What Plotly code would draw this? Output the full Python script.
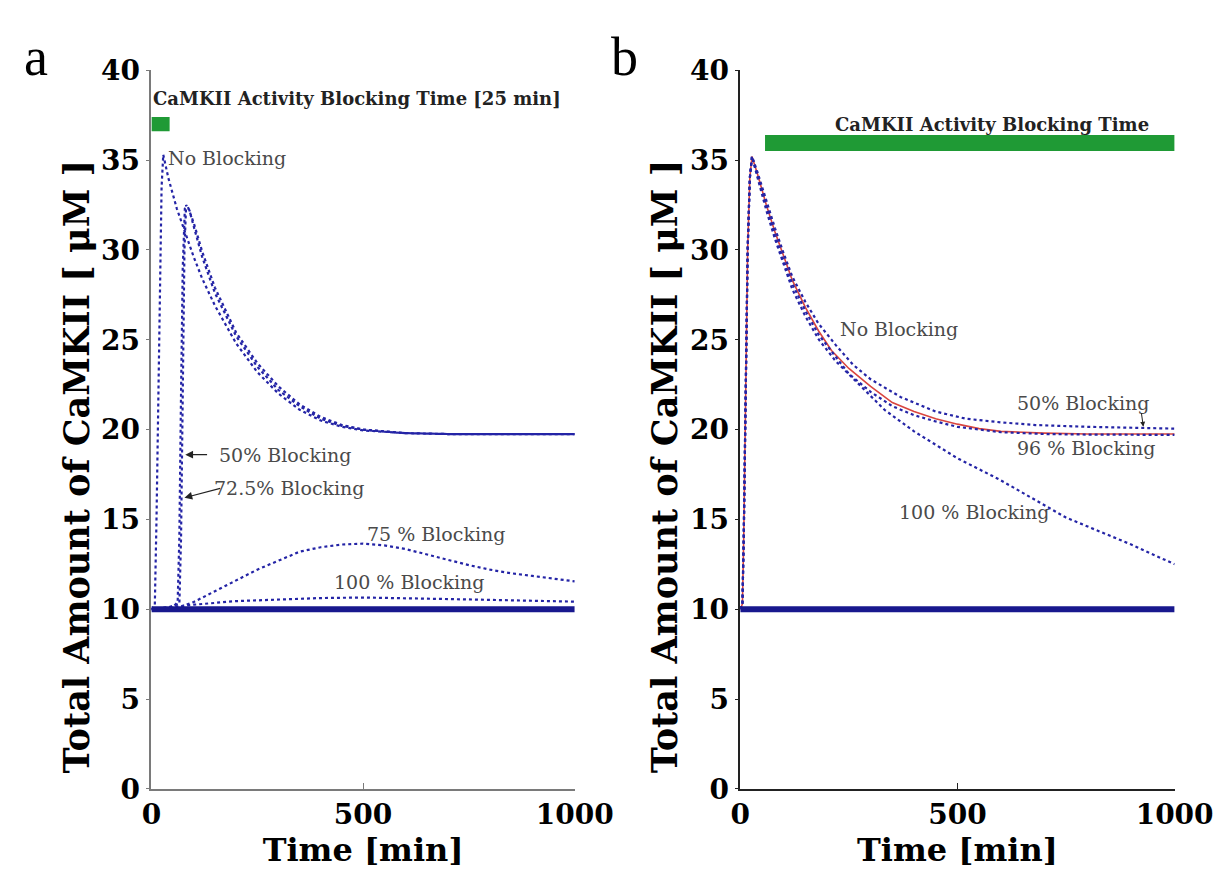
import plotly.graph_objects as go

# ---------------- Panel a (25 min blocking) ----------------
a_none_t = [0, 8, 12, 16, 20, 24, 28, 40, 60, 80, 100, 120, 150, 200, 250, 300, 350, 400, 450, 500, 600, 700, 800, 900, 1000]
a_none_v = [10, 10.2, 15, 22, 29, 33.5, 35.3, 34.0, 32.3, 30.9, 29.6, 28.4, 26.9, 24.8, 23.2, 22.0, 21.1, 20.5, 20.15, 19.95, 19.8, 19.75, 19.75, 19.75, 19.75]

a_50_t = [0, 40, 66, 70, 74, 78, 82, 90, 100, 120, 150, 200, 250, 300, 350, 400, 450, 500, 600, 700, 800, 900, 1000]
a_50_v = [10, 10.1, 10.3, 14, 22, 30, 32.5, 32.2, 31.3, 29.6, 27.6, 25.2, 23.5, 22.2, 21.3, 20.6, 20.2, 20.0, 19.8, 19.75, 19.75, 19.75, 19.75]

a_725_t = [0, 50, 62, 66, 70, 74, 79, 86, 100, 120, 150, 200, 250, 300, 350, 400, 450, 500, 600, 700, 800, 900, 1000]
a_725_v = [10, 10.1, 10.4, 14, 22, 29, 32.3, 32.4, 31.5, 29.9, 27.9, 25.4, 23.7, 22.4, 21.4, 20.7, 20.25, 20.0, 19.8, 19.75, 19.75, 19.75, 19.75]

a_75_t = [0, 60, 100, 150, 200, 250, 300, 350, 400, 450, 500, 550, 600, 650, 700, 750, 800, 850, 900, 950, 1000]
a_75_v = [10, 10.05, 10.4, 11.0, 11.6, 12.2, 12.7, 13.2, 13.45, 13.6, 13.65, 13.55, 13.35, 13.05, 12.75, 12.45, 12.2, 12.0, 11.85, 11.7, 11.55]

a_100_t = [0, 100, 200, 300, 400, 500, 600, 700, 800, 900, 1000]
a_100_v = [10, 10.25, 10.45, 10.55, 10.62, 10.65, 10.62, 10.58, 10.52, 10.47, 10.42]

base_t = [0, 1000]
base_v = [10, 10]

a_block_t = [0, 43]          # green bar (blocking period) in panel a
a_block_v = [36.6, 37.4]

# ---------------- Panel b (long blocking) ----------------
b_none_t = [0, 5, 8, 12, 17, 22, 27, 40, 60, 80, 100, 120, 150, 180, 210, 250, 300, 350, 400, 450, 500, 550, 600, 700, 800, 900, 1000]
b_none_v = [10, 10.3, 14, 22, 30, 34, 35.2, 34.2, 32.5, 31.0, 29.6, 28.3, 26.8, 25.5, 24.4, 23.4, 22.4, 21.5, 21.0, 20.6, 20.3, 20.05, 19.9, 19.8, 19.75, 19.75, 19.75]

b_50_t = [0, 5, 8, 12, 17, 22, 27, 40, 60, 80, 100, 120, 150, 180, 220, 260, 300, 370, 450, 520, 600, 680, 800, 900, 1000]
b_50_v = [10, 10.3, 14, 22, 30, 34, 35.2, 34.3, 32.7, 31.2, 29.8, 28.5, 27.1, 25.9, 24.7, 23.6, 22.8, 21.8, 21.0, 20.6, 20.4, 20.25, 20.15, 20.1, 20.05]

b_96_t = [0, 5, 8, 12, 17, 22, 27, 40, 60, 80, 100, 120, 150, 180, 250, 300, 350, 400, 450, 500, 600, 700, 800, 900, 1000]
b_96_v = [10, 10.3, 14, 22, 30, 34, 35.2, 34.1, 32.4, 30.8, 29.4, 28.1, 26.6, 25.3, 23.1, 22.1, 21.3, 20.8, 20.45, 20.15, 19.85, 19.75, 19.72, 19.7, 19.7]

b_100_t = [0, 5, 8, 12, 17, 22, 27, 40, 60, 80, 100, 120, 150, 181, 220, 257, 300, 332, 400, 446, 500, 598, 700, 750, 800, 900, 1000]
b_100_v = [10, 10.3, 14, 22, 30, 34, 35.2, 34.0, 32.2, 30.6, 29.2, 27.8, 26.3, 25.0, 23.8, 22.9, 21.9, 21.1, 19.9, 19.2, 18.4, 17.2, 15.8, 15.1, 14.6, 13.6, 12.5]

b_block_t = [57, 1000]        # green bar (blocking period) in panel b
b_block_v = [35.5, 36.4]

y_ticks = [0, 5, 10, 15, 20, 25, 30, 35, 40]
x_ticks = [0, 500, 1000]
y_title = "Total Amount of CaMKII [ μM ]"
x_title = "Time [min]"

# ---------------- styling / layout geometry ----------------
S = 0.958                    # observed page-to-picture scale
OX, OY = 17, 26              # observed picture offset
W, H = 1257, 888
BLUE = "#2424a6"
BASE = "#18188e"
RED = "#d9453f"
GREEN = "#1f9a35"
SERIF = "DejaVu Serif"
LBL = dict(family=SERIF, size=19, color="#4a4a4a")


def px_x(p):
    return ((p - OX) / S) / W


def px_y(p):
    return 1 - ((p - OY) / S) / H


fig = go.Figure()

dot = dict(color=BLUE, width=2.2, dash="dot")

# panel a traces
for t, v in [(a_none_t, a_none_v), (a_50_t, a_50_v), (a_725_t, a_725_v), (a_75_t, a_75_v), (a_100_t, a_100_v)]:
    fig.add_trace(go.Scatter(x=t, y=v, mode="lines", line=dot, xaxis="x", yaxis="y", showlegend=False))
fig.add_trace(go.Scatter(x=base_t, y=base_v, mode="lines", line=dict(color=BASE, width=6), xaxis="x", yaxis="y", showlegend=False))

# panel b traces
fig.add_trace(go.Scatter(x=b_none_t, y=b_none_v, mode="lines", line=dict(color=RED, width=1.6), xaxis="x2", yaxis="y2", showlegend=False))
for t, v in [(b_50_t, b_50_v), (b_96_t, b_96_v), (b_100_t, b_100_v)]:
    fig.add_trace(go.Scatter(x=t, y=v, mode="lines", line=dot, xaxis="x2", yaxis="y2", showlegend=False))
fig.add_trace(go.Scatter(x=base_t, y=base_v, mode="lines", line=dict(color=BASE, width=6), xaxis="x2", yaxis="y2", showlegend=False))

# green blocking bars
fig.add_shape(type="rect", xref="x", yref="y", x0=a_block_t[0], x1=a_block_t[1], y0=a_block_v[0], y1=a_block_v[1],
              fillcolor=GREEN, line=dict(width=0))
fig.add_shape(type="rect", xref="x2", yref="y2", x0=b_block_t[0], x1=b_block_t[1], y0=b_block_v[0], y1=b_block_v[1],
              fillcolor=GREEN, line=dict(width=0))

tickfont = dict(family=SERIF, size=28, color="black", weight="bold")
xtitlefont = dict(family=SERIF, size=32, color="black", weight="bold")
ytitlefont = dict(family=SERIF, size=35, color="black", weight="bold")

common_x = dict(range=[0, 1000], tickvals=x_ticks, ticks="inside", ticklen=6, showgrid=False, zeroline=False,
                showline=True, linewidth=1.5, tickfont=tickfont,
                title=dict(text=x_title, font=xtitlefont, standoff=4))
common_y = dict(range=[0, 40], tickvals=y_ticks, ticks="outside", ticklen=4, showgrid=False, zeroline=False,
                showline=True, linewidth=1.5, tickfont=tickfont)

y_dom = [px_y(787), px_y(72)]
fig.update_layout(
    width=W, height=H, margin=dict(l=0, r=0, t=0, b=0),
    paper_bgcolor="white", plot_bgcolor="white",
    xaxis=dict(domain=[px_x(150), px_x(572)], anchor="y", linecolor="#7a7a7a", tickcolor="#7a7a7a", **common_x),
    yaxis=dict(domain=y_dom, anchor="x", linecolor="#7a7a7a", tickcolor="#7a7a7a", **common_y),
    xaxis2=dict(domain=[px_x(737), px_x(1170)], anchor="y2", linecolor="#222", tickcolor="#222", **common_x),
    yaxis2=dict(domain=y_dom, anchor="x2", linecolor="#222", tickcolor="#222", **common_y),
)

ann = []
# y-axis titles (placed slightly below the axis centre, as in the original)
ann.append(dict(text=y_title, xref="paper", yref="paper", x=px_x(75), y=px_y(466), textangle=-90,
                xanchor="center", yanchor="middle", showarrow=False, font=ytitlefont))
ann.append(dict(text=y_title, xref="paper", yref="paper", x=px_x(661), y=px_y(466), textangle=-90,
                xanchor="center", yanchor="middle", showarrow=False, font=ytitlefont))

# panel letters (kept fully inside the figure)
ann.append(dict(text="a", xref="paper", yref="paper", x=0.003, y=0.999, xanchor="left", yanchor="top",
                showarrow=False, font=dict(family="Liberation Serif", size=54, color="black")))
ann.append(dict(text="b", xref="paper", yref="paper", x=px_x(622), y=0.999, xanchor="center", yanchor="top",
                showarrow=False, font=dict(family="Liberation Serif", size=54, color="black")))

bold_lbl = dict(family=SERIF, size=18, color="#222", weight="bold")
# panel a labels
ann.append(dict(text="CaMKII Activity Blocking Time [25 min]", xref="x", yref="y", x=0, y=38.4, xanchor="left",
                showarrow=False, font=bold_lbl))
ann.append(dict(text="No Blocking", xref="x", yref="y", x=35, y=35.1, xanchor="left", showarrow=False, font=LBL))
ann.append(dict(text="50% Blocking", xref="x", yref="y", x=154, y=18.6, xanchor="left", showarrow=False, font=LBL))
ann.append(dict(text="72.5% Blocking", xref="x", yref="y", x=142, y=16.75, xanchor="left", showarrow=False, font=LBL))
ann.append(dict(text="75 % Blocking", xref="x", yref="y", x=505, y=14.2, xanchor="left", showarrow=False, font=LBL))
ann.append(dict(text="100 % Blocking", xref="x", yref="y", x=427, y=11.5, xanchor="left", showarrow=False, font=LBL))
# arrows panel a
ann.append(dict(text="", xref="x", yref="y", x=80, y=18.6, axref="x", ayref="y", ax=135, ay=18.6,
                showarrow=True, arrowhead=2, arrowsize=1.3, arrowwidth=1.2, arrowcolor="#222"))
ann.append(dict(text="", xref="x", yref="y", x=78, y=16.2, axref="x", ayref="y", ax=166, ay=16.75,
                showarrow=True, arrowhead=2, arrowsize=1.3, arrowwidth=1.2, arrowcolor="#222"))

# panel b labels
ann.append(dict(text="CaMKII Activity Blocking Time", xref="x2", yref="y2", x=580, y=37.0, showarrow=False,
                font=bold_lbl))
ann.append(dict(text="No Blocking", xref="x2", yref="y2", x=225, y=25.6, xanchor="left", showarrow=False, font=LBL))
ann.append(dict(text="50% Blocking", xref="x2", yref="y2", x=632, y=21.5, xanchor="left", showarrow=False, font=LBL))
ann.append(dict(text="96 % Blocking", xref="x2", yref="y2", x=632, y=19.0, xanchor="left", showarrow=False, font=LBL))
ann.append(dict(text="100 % Blocking", xref="x2", yref="y2", x=360, y=15.4, xanchor="left", showarrow=False, font=LBL))
ann.append(dict(text="", xref="x2", yref="y2", x=928, y=20.15, axref="x2", ayref="y2", ax=923, ay=21.0,
                showarrow=True, arrowhead=2, arrowsize=1, arrowwidth=1, arrowcolor="#222"))

fig.update_layout(annotations=ann)

fig.write_html("out.html")
